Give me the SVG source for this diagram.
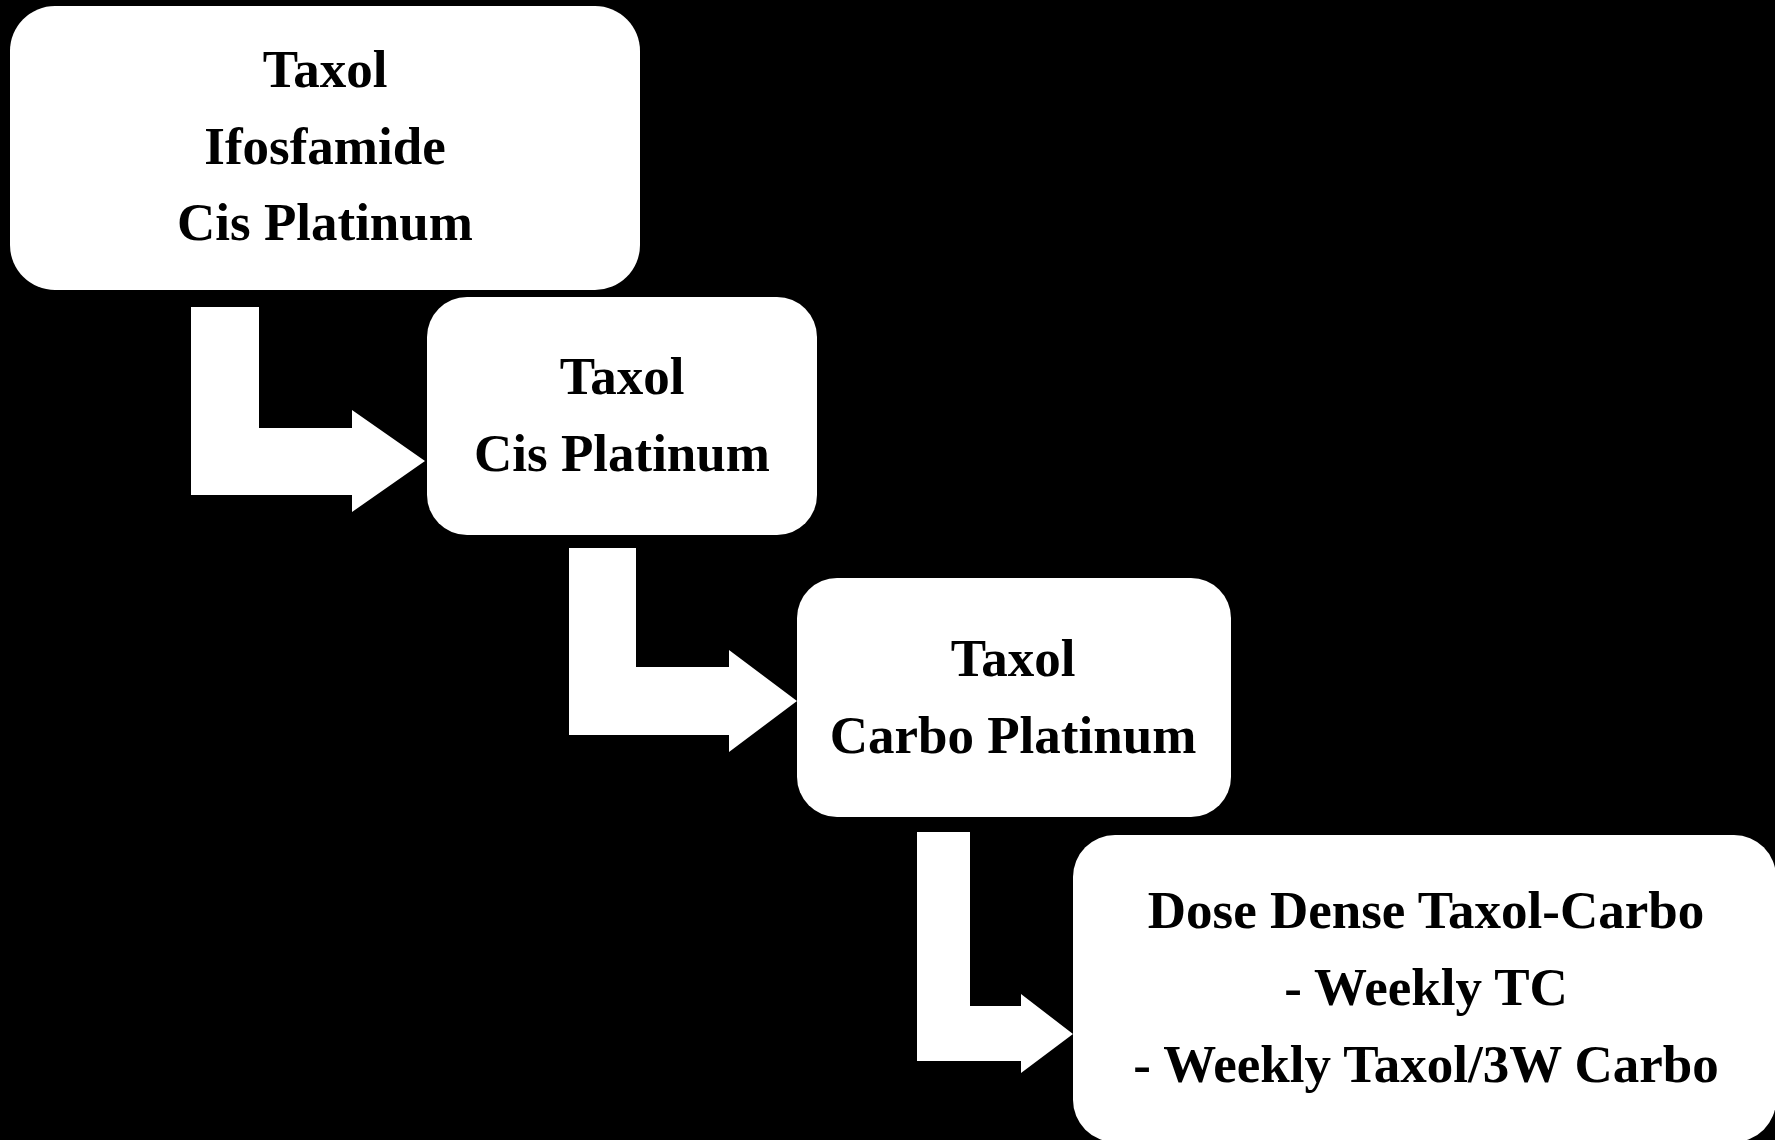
<svg xmlns="http://www.w3.org/2000/svg" width="1775" height="1140" viewBox="0 0 1775 1140">
<style>
.box{fill:#fff}
.arr{fill:#fff}
text{font-family:"Liberation Serif","Times New Roman",serif;font-weight:bold;font-size:53px;fill:#000;text-anchor:middle}
</style>
<rect x="0" y="0" width="1775" height="1140" fill="#000"/>
<g id="connectors">
<polygon class="arr" points="191,307 259,307 259,428 352,428 352,410 425,461 352,512 352,495 191,495"/>
<polygon class="arr" points="569,548 636,548 636,667 729,667 729,650 797,701 729,752 729,735 569,735"/>
<polygon class="arr" points="917,832 970,832 970,1006 1021,1006 1021,994 1073,1034 1021,1073 1021,1061 917,1061"/>
</g>
<g id="node1">
<rect class="box" x="10" y="6" width="630" height="284" rx="45"/>
<text x="325" y="87">Taxol</text>
<text x="325" y="164">Ifosfamide</text>
<text x="325" y="240">Cis Platinum</text>
</g>
<g id="node2">
<rect class="box" x="427" y="297" width="390" height="238" rx="40"/>
<text x="622" y="394">Taxol</text>
<text x="622" y="471">Cis Platinum</text>
</g>
<g id="node3">
<rect class="box" x="797" y="578" width="434" height="239" rx="40"/>
<text x="1013" y="676">Taxol</text>
<text x="1013" y="753">Carbo Platinum</text>
</g>
<g id="node4">
<rect class="box" x="1073" y="835" width="703" height="307" rx="42"/>
<text x="1426" y="928">Dose Dense Taxol-Carbo</text>
<text x="1426" y="1005">- Weekly TC</text>
<text x="1426" y="1082">- Weekly Taxol/3W Carbo</text>
</g>
</svg>
